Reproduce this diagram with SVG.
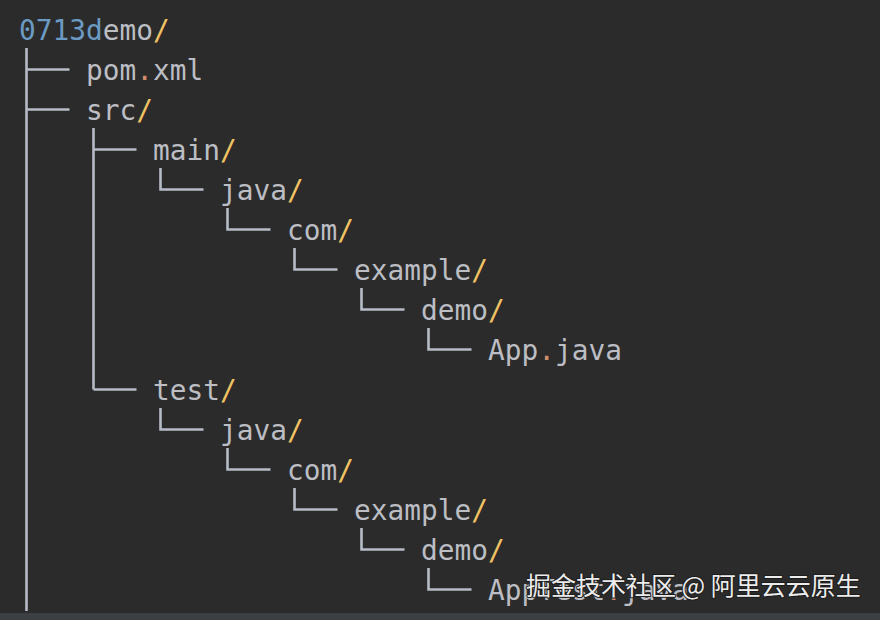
<svg xmlns="http://www.w3.org/2000/svg" width="880" height="620" viewBox="0 0 880 620">
  <style>
    .t { font-family: "DejaVu Sans Mono", "Liberation Mono", monospace; font-size: 27.8px; fill: #bcbec4; }
    .s { fill: #f0c262; }
    .d { fill: #cf8e6d; }
    .n { fill: #6b9bc3; }
    .c { stroke: #b6bcc6; stroke-width: 2.6; fill: none; stroke-linecap: butt; }
    .wm { font-family: "Noto Sans CJK SC", "Noto Sans", sans-serif; font-size: 25px; fill: #ececec; stroke: #1c1c1c; stroke-width: 2; paint-order: stroke; stroke-linejoin: round; }
  </style>
  <rect x="0" y="0" width="880" height="620" fill="#2b2b2b"/>
  <rect x="0" y="613" width="880" height="7" fill="#3c3f41"/>

  <g id="connectors" class="c">
    <path d="M26.5 48 V611 M26.5 69.5 H69.5 M26.5 109.5 H69.5"/>
    <path d="M93.5 128 V389.5 M93.5 149.5 H136.5 M93.5 389.5 H136.5"/>
    <path d="M160.5 168 V189.5 H203.5"/>
    <path d="M227.5 208 V229.5 H270.5"/>
    <path d="M294.5 248 V269.5 H337.5"/>
    <path d="M361.5 288 V309.5 H404.5"/>
    <path d="M428.5 328 V349.5 H471.5"/>
    <path d="M160.5 408 V429.5 H203.5"/>
    <path d="M227.5 448 V469.5 H270.5"/>
    <path d="M294.5 488 V509.5 H337.5"/>
    <path d="M361.5 528 V549.5 H404.5"/>
    <path d="M428.5 568 V589.5 H471.5"/>
  </g>

  <g id="root"><text class="t" x="19" y="40"><tspan class="n">0713d</tspan>emo<tspan class="s">/</tspan></text></g>
  <g id="pom"><text class="t" x="86" y="80">pom<tspan class="d">.</tspan>xml</text></g>
  <g id="src"><text class="t" x="86" y="120">src<tspan class="s">/</tspan></text></g>
  <g id="main"><text class="t" x="153" y="160">main<tspan class="s">/</tspan></text></g>
  <g id="main-java"><text class="t" x="220" y="200">java<tspan class="s">/</tspan></text></g>
  <g id="main-com"><text class="t" x="287" y="240">com<tspan class="s">/</tspan></text></g>
  <g id="main-example"><text class="t" x="354" y="280">example<tspan class="s">/</tspan></text></g>
  <g id="main-demo"><text class="t" x="421" y="320">demo<tspan class="s">/</tspan></text></g>
  <g id="app"><text class="t" x="488" y="360">App<tspan class="d">.</tspan>java</text></g>
  <g id="test"><text class="t" x="153" y="400">test<tspan class="s">/</tspan></text></g>
  <g id="test-java"><text class="t" x="220" y="440">java<tspan class="s">/</tspan></text></g>
  <g id="test-com"><text class="t" x="287" y="480">com<tspan class="s">/</tspan></text></g>
  <g id="test-example"><text class="t" x="354" y="520">example<tspan class="s">/</tspan></text></g>
  <g id="test-demo"><text class="t" x="421" y="560">demo<tspan class="s">/</tspan></text></g>
  <g id="apptest"><text class="t" x="488" y="600">AppTest<tspan class="d">.</tspan>java</text></g>

  <g id="watermark"><text class="wm" x="526" y="595">掘金技术社区 @ 阿里云云原生</text></g>
</svg>
